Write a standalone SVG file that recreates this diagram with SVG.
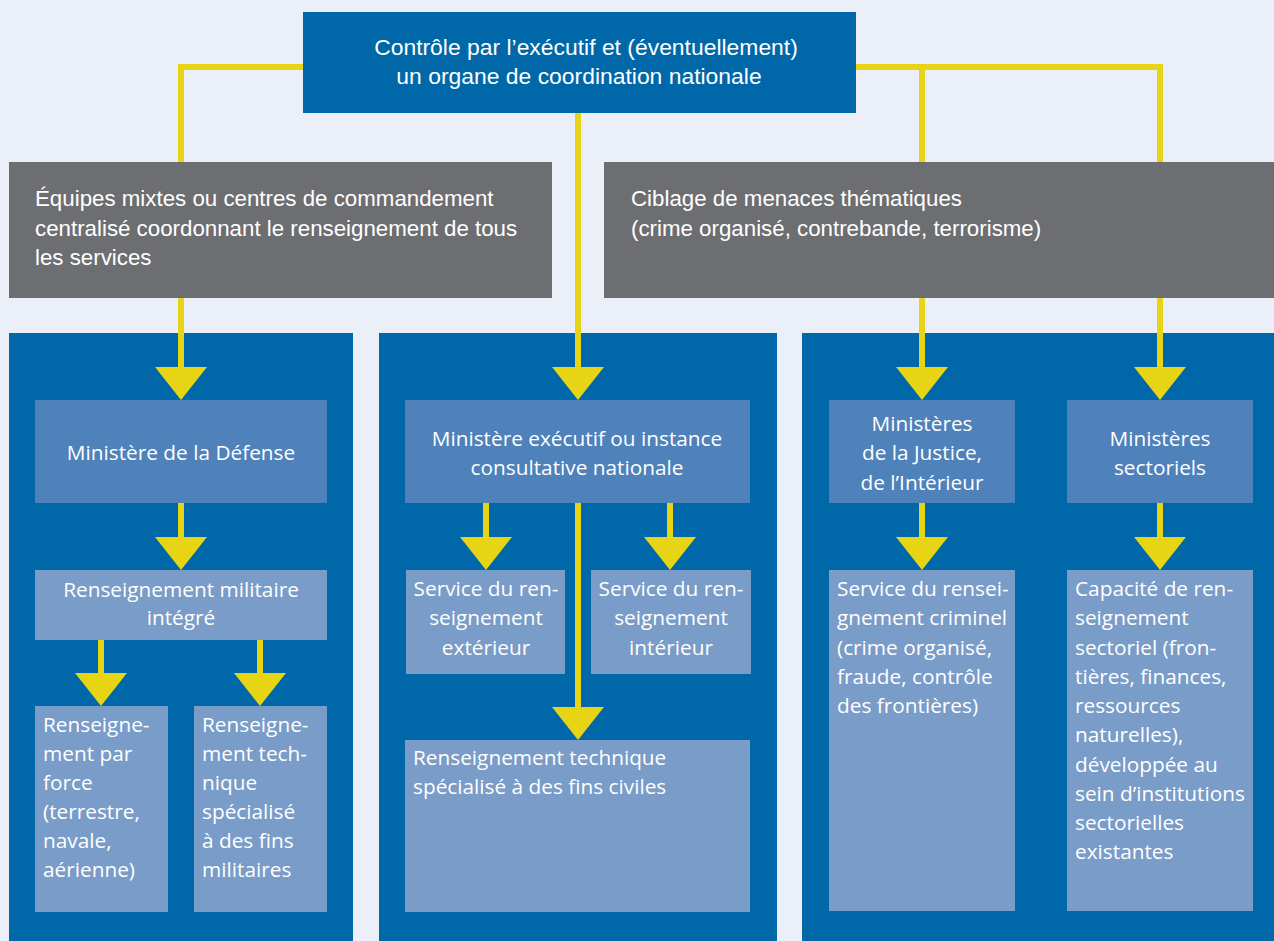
<svg xmlns="http://www.w3.org/2000/svg" width="1274" height="941" viewBox="0 0 1274 941">
<defs>
<marker id="ah" viewBox="0 0 52 33" refX="26" refY="3" markerWidth="52" markerHeight="33" markerUnits="userSpaceOnUse">
<path d="M0,0 L52,0 L26,33 Z" fill="#E6D415"/>
</marker>
<style>
.bg{fill:#EBEFF7}
.dark{fill:#0068A9}
.gray{fill:#6D6E71}
.mid{fill:#4F81BA}
.light{fill:#7A9CC8}
.conn{fill:none;stroke:#E6D415;stroke-width:6;stroke-linejoin:miter}
.t1{font-family:"Liberation Sans",Arial,sans-serif;font-size:22.3px;fill:#FFFFFF}
.t0{font-family:"Liberation Sans",Arial,sans-serif;font-size:22.9px;fill:#FFFFFF}
.t2{font-family:"Open Sans","Noto Sans",sans-serif;font-size:20.8px;fill:#FFFFFF}
.c{text-anchor:middle}
</style>
</defs>
<rect class="bg" x="0" y="0" width="1274" height="941"/>
<g id="panels">
<rect class="dark" x="9" y="333" width="344" height="608"/>
<rect class="dark" x="379" y="333" width="398" height="608"/>
<rect class="dark" x="802" y="333" width="472" height="608"/>
</g>
<g id="connectors">
<path class="conn" d="M310,67 H181 V370" marker-end="url(#ah)"/>
<path class="conn" d="M578,105 V370" marker-end="url(#ah)"/>
<path class="conn" d="M850,67 H1160 V370" marker-end="url(#ah)"/>
<path class="conn" d="M922,67 V370" marker-end="url(#ah)"/>
<path class="conn" d="M181,500 V540" marker-end="url(#ah)"/>
<path class="conn" d="M101,637 V676" marker-end="url(#ah)"/>
<path class="conn" d="M260,637 V676" marker-end="url(#ah)"/>
<path class="conn" d="M486,500 V540" marker-end="url(#ah)"/>
<path class="conn" d="M670,500 V540" marker-end="url(#ah)"/>
<path class="conn" d="M578,500 V710" marker-end="url(#ah)"/>
<path class="conn" d="M922,500 V540" marker-end="url(#ah)"/>
<path class="conn" d="M1160,500 V540" marker-end="url(#ah)"/>
</g>
<g id="n-top">
<rect class="dark" x="303" y="12" width="553" height="101"/>
<text class="t0 c" x="586" y="55">Contrôle par l’exécutif et (éventuellement)</text>
<text class="t0 c" x="579" y="84">un organe de coordination nationale</text>
</g>
<g id="n-equipes">
<rect class="gray" x="9" y="162" width="543" height="136"/>
<text class="t1" x="35" y="206">Équipes mixtes ou centres de commandement</text>
<text class="t1" x="35" y="236">centralisé coordonnant le renseignement de tous</text>
<text class="t1" x="35" y="265">les services</text>
</g>
<g id="n-ciblage">
<rect class="gray" x="604" y="162" width="670" height="136"/>
<text class="t1" x="631" y="206">Ciblage de menaces thématiques</text>
<text class="t1" x="631" y="236">(crime organisé, contrebande, terrorisme)</text>
</g>
<g id="n-defense">
<rect class="mid" x="35" y="400" width="292" height="103"/>
<text class="t2 c" x="181" y="460">Ministère de la Défense</text>
</g>
<g id="n-milint">
<rect class="light" x="35" y="570" width="292" height="70"/>
<text class="t2 c" x="181" y="597">Renseignement militaire</text>
<text class="t2 c" x="181" y="625">intégré</text>
</g>
<g id="n-force">
<rect class="light" x="35" y="706" width="133" height="206"/>
<text class="t2" x="43" y="732">Renseigne-</text>
<text class="t2" x="43" y="761">ment par</text>
<text class="t2" x="43" y="790">force</text>
<text class="t2" x="43" y="819">(terrestre,</text>
<text class="t2" x="43" y="848">navale,</text>
<text class="t2" x="43" y="877">aérienne)</text>
</g>
<g id="n-techmil">
<rect class="light" x="194" y="706" width="133" height="206"/>
<text class="t2" x="202" y="732">Renseigne-</text>
<text class="t2" x="202" y="761">ment tech-</text>
<text class="t2" x="202" y="790">nique</text>
<text class="t2" x="202" y="819">spécialisé</text>
<text class="t2" x="202" y="848">à des fins</text>
<text class="t2" x="202" y="877">militaires</text>
</g>
<g id="n-executif">
<rect class="mid" x="405" y="400" width="345" height="103"/>
<text class="t2 c" x="577" y="446">Ministère exécutif ou instance</text>
<text class="t2 c" x="577" y="475">consultative nationale</text>
</g>
<g id="n-exterieur">
<rect class="light" x="406" y="570" width="159" height="104"/>
<text class="t2 c" x="486" y="596">Service du ren-</text>
<text class="t2 c" x="486" y="625">seignement</text>
<text class="t2 c" x="486" y="655">extérieur</text>
</g>
<g id="n-interieur">
<rect class="light" x="591" y="570" width="160" height="104"/>
<text class="t2 c" x="671" y="596">Service du ren-</text>
<text class="t2 c" x="671" y="625">seignement</text>
<text class="t2 c" x="671" y="655">intérieur</text>
</g>
<g id="n-techciv">
<rect class="light" x="405" y="740" width="345" height="172"/>
<text class="t2" x="413" y="765">Renseignement technique</text>
<text class="t2" x="413" y="794">spécialisé à des fins civiles</text>
</g>
<g id="n-justice">
<rect class="mid" x="829" y="400" width="186" height="103"/>
<text class="t2 c" x="922" y="431">Ministères</text>
<text class="t2 c" x="922" y="460">de la Justice,</text>
<text class="t2 c" x="922" y="490">de l’Intérieur</text>
</g>
<g id="n-sectoriels">
<rect class="mid" x="1067" y="400" width="186" height="103"/>
<text class="t2 c" x="1160" y="446">Ministères</text>
<text class="t2 c" x="1160" y="475">sectoriels</text>
</g>
<g id="n-criminel">
<rect class="light" x="829" y="570" width="186" height="341"/>
<text class="t2" x="837" y="596">Service du rensei-</text>
<text class="t2" x="837" y="625">gnement criminel</text>
<text class="t2" x="837" y="655">(crime organisé,</text>
<text class="t2" x="837" y="684">fraude, contrôle</text>
<text class="t2" x="837" y="713">des frontières)</text>
</g>
<g id="n-capacite">
<rect class="light" x="1067" y="570" width="186" height="341"/>
<text class="t2" x="1075" y="596">Capacité de ren-</text>
<text class="t2" x="1075" y="625">seignement</text>
<text class="t2" x="1075" y="655">sectoriel (fron-</text>
<text class="t2" x="1075" y="684">tières, finances,</text>
<text class="t2" x="1075" y="713">ressources</text>
<text class="t2" x="1075" y="742">naturelles),</text>
<text class="t2" x="1075" y="772">développée au</text>
<text class="t2" x="1075" y="801">sein d’institutions</text>
<text class="t2" x="1075" y="830">sectorielles</text>
<text class="t2" x="1075" y="859">existantes</text>
</g>
</svg>
